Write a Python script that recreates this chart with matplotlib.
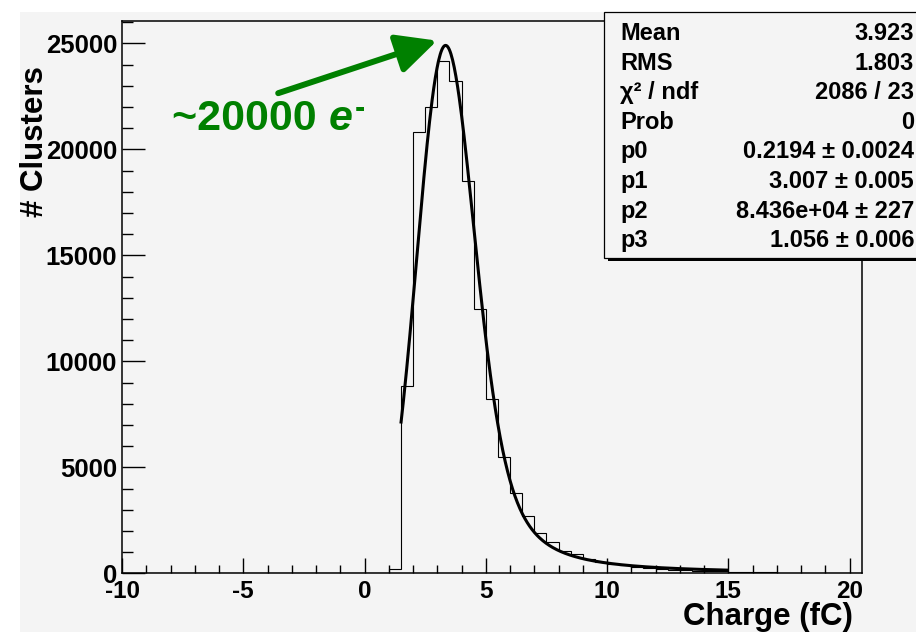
import numpy as np
import matplotlib
matplotlib.use('Agg')
import matplotlib.pyplot as plt
from matplotlib.patches import Rectangle, FancyArrowPatch
from matplotlib.ticker import MultipleLocator

plt.rcParams['font.family'] = ['Liberation Sans', 'DejaVu Sans']
plt.rcParams['font.weight'] = 'bold'
plt.rcParams['axes.unicode_minus'] = False

# histogram: 0.5 fC bins, lower edges from 1.0 fC (everything below is empty)
bin_width = 0.5
bin_low = np.arange(1.0, 20.5, bin_width)
counts = [200, 8835, 20800, 21980, 24180, 23220, 18500, 12450, 8220, 5470,
          3770, 2720, 1915, 1490, 1065, 910, 690, 530, 440, 370,
          300, 250, 210, 175, 145, 120, 100, 85, 70, 60,
          50, 42, 36, 30, 25, 22, 18, 15, 12]

# langaus fit parameters from the stats box
p0_width = 0.2194
p1_mpv = 3.007
p2_area = 8.436e4
p3_sigma = 1.056
fit_lo, fit_hi = 1.5, 15.0

stat_names = ['Mean', 'RMS', 'χ² / ndf', 'Prob', 'p0', 'p1', 'p2', 'p3']
stat_values = ['3.923', '1.803', '2086 / 23', '0', '0.2194 ± 0.0024',
               '3.007 ± 0.005', '8.436e+04 ± 227', '1.056 ± 0.006']


def landau_std(lam):
    # standard landau density, (1/pi) int exp(-t ln t - lam t) sin(pi t) dt
    t = np.concatenate([np.linspace(1e-9, 2, 4001), np.linspace(2, 50, 9601)[1:]])
    kern = np.exp(-t * np.log(t)) * np.sin(np.pi * t)
    out = np.zeros(len(lam))
    for i, l in enumerate(lam):
        if l >= -3:
            out[i] = np.trapezoid(kern * np.exp(-l * t), t) / np.pi
    return out


def langaus(x):
    mpc = p1_mpv + 0.22278298 * p0_width
    step = 0.005
    xx = np.arange(mpc - 3 * p0_width, 26, step)
    lan = landau_std((xx - mpc) / p0_width) / p0_width
    g = np.exp(-0.5 * ((x[:, None] - xx[None, :]) / p3_sigma) ** 2) / (np.sqrt(2 * np.pi) * p3_sigma)
    return p2_area * (g * lan[None, :]).sum(axis=1) * step


W, H = 916, 632
bg = '#f4f4f4'
green = '#008000'

fig = plt.figure(figsize=(W / 100, H / 100), dpi=100, facecolor=bg)
ax = fig.add_axes([122 / W, 1 - 573.3 / H, (861.7 - 122) / W, (573.3 - 20.7) / H])
ax.set_facecolor(bg)

# white strips of the screenshot
fig.add_artist(Rectangle((0, 1 - 12 / H), 1, 12 / H, transform=fig.transFigure,
                         facecolor='white', edgecolor='none', zorder=-5))
fig.add_artist(Rectangle((0, 0), 20 / W, 1, transform=fig.transFigure,
                         facecolor='white', edgecolor='none', zorder=-5))

all_edges = np.arange(-10, 20.5 + bin_width / 2, bin_width)
full_counts = np.zeros(len(all_edges) - 1)
start = int(round((bin_low[0] - all_edges[0]) / bin_width))
full_counts[start:start + len(counts)] = counts
ax.stairs(full_counts, all_edges, color='black', lw=0.8)

xf = np.linspace(fit_lo, fit_hi, 400)
ax.plot(xf, langaus(xf), color='black', lw=2.2, solid_capstyle='butt')

ax.set_xlim(-10, 20.5)
ax.set_ylim(0, 26070)
ax.xaxis.set_major_locator(MultipleLocator(5))
ax.xaxis.set_minor_locator(MultipleLocator(1))
ax.yaxis.set_major_locator(MultipleLocator(5000))
ax.yaxis.set_minor_locator(MultipleLocator(1000))
ax.tick_params(axis='x', which='major', direction='in', length=11, width=1, labelsize=17.5, pad=5)
ax.tick_params(axis='x', which='minor', direction='in', length=5.5, width=1)
ax.tick_params(axis='y', which='major', direction='in', length=16.5, width=1, labelsize=18.5, pad=3.5)
ax.tick_params(axis='y', which='minor', direction='in', length=8, width=1)
for s in ax.spines.values():
    s.set_linewidth(1.1)

fig.text(853 / W, 1 - 625 / H, 'Charge (fC)', ha='right', va='baseline', fontsize=22.5)
fig.text(35 / W, 1 - 66 / H, '# Clusters', rotation=90, ha='center', va='top', fontsize=22.5)

# annotation: "~20000 e-" with italic e and superscript minus
t1 = ax.text(-7.92, 20910, '~20000 ', color=green, fontsize=31, va='baseline', ha='left')
t2 = ax.annotate('e', xy=(1, 0), xycoords=t1, color=green, fontsize=31, style='italic',
                 va='bottom', ha='left')
ax.annotate('-', xy=(1, 1), xycoords=t2, xytext=(1, 4), textcoords='offset points',
            color=green, fontsize=22, va='top', ha='left')
arr = FancyArrowPatch((-3.56, 22650), (2.99, 25130), arrowstyle='-|>,head_length=2.45,head_width=1.2',
                      mutation_scale=10, color=green, lw=4.3, shrinkA=0, shrinkB=0)
ax.add_patch(arr)

# stats box
bx0, by0, by1 = 604, 12.3, 258.3
fig.add_artist(Rectangle((bx0 / W + 4 / W, 1 - (by1 + 3) / H), 400 / W, (by1 - by0) / H,
                         transform=fig.transFigure, facecolor='black', edgecolor='none', zorder=2))
fig.add_artist(Rectangle((bx0 / W, 1 - by1 / H), 400 / W, (by1 - by0) / H,
                         transform=fig.transFigure, facecolor=bg, edgecolor='black', lw=0.9, zorder=2.5))
for i, (n, v) in enumerate(zip(stat_names, stat_values)):
    yb = 1 - (40 + 29.6 * i) / H
    fig.text(620 / W, yb, n, ha='left', va='baseline', fontsize=17, zorder=3)
    fig.text(914 / W, yb, v, ha='right', va='baseline', fontsize=17, zorder=3)

fig.savefig('out.png', dpi=100, facecolor=bg)
